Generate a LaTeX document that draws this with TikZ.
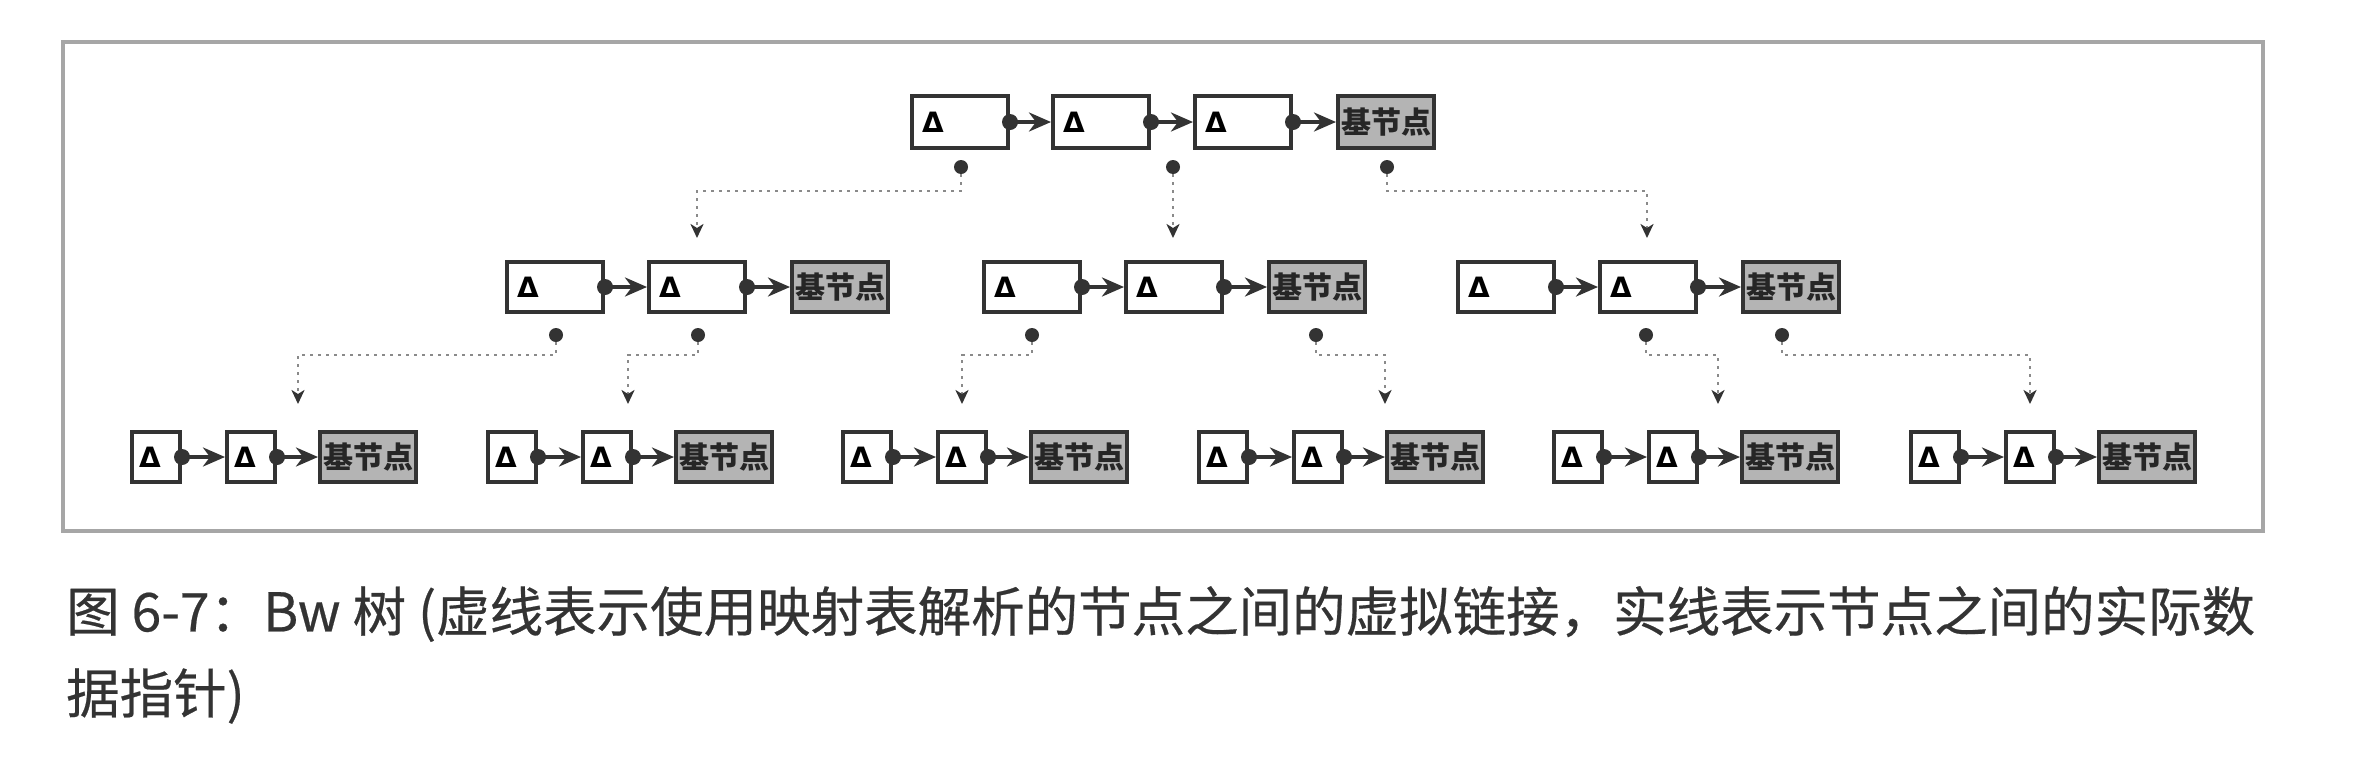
\documentclass[tikz,border=0pt]{standalone}
\usepackage{fontspec}
\setmainfont{Noto Sans CJK SC}
\newfontfamily\capfont{Noto Sans CJK SC}[FakeBold=0.4]
\newfontfamily\deltafont{DejaVu Sans}
\usetikzlibrary{arrows.meta}
\definecolor{ink}{HTML}{333333}
\definecolor{basefill}{HTML}{B4B4B4}
\definecolor{dashc}{HTML}{8A8A8A}
\begin{document}
\begin{tikzpicture}[x=1pt,y=-1pt,
  nbox/.style={draw=ink,line width=4pt,fill=white,minimum height=52pt,minimum width=96pt,
    inner xsep=10pt,inner ysep=0pt,text width=76pt,align=left,font=\deltafont\bfseries\fontsize{28}{30}\selectfont},
  sbox/.style={nbox,minimum height=50pt,minimum width=48pt,inner xsep=7pt,text width=34pt},
  basebox/.style={draw=ink,line width=4pt,fill=basefill,minimum height=50pt,minimum width=96pt,
    inner sep=0pt,font=\bfseries\fontsize{30}{31}\selectfont,text=black!85},
  link/.style={draw=ink,line width=3.5pt,-{Stealth[length=22pt,width=19pt,inset=7pt]}},
  dotn/.style={circle,fill=ink,minimum size=14pt,inner sep=0pt},
  vlink/.style={draw=dashc,line width=2.5pt,dash pattern=on 3pt off 5pt,
    -{Stealth[length=14pt,width=13pt,inset=4pt,color=ink]}},
  captext/.style={anchor=west,inner sep=0pt,text=ink,font=\capfont\fontsize{53.5}{60}\selectfont}]
\useasboundingbox (0,0) rectangle (2356,758);
\fill[white] (0,0) rectangle (2356,758);
% frame
\draw[gray!70,line width=3.5pt] (63,42) rectangle (2263,531);

% top row
\node[nbox,minimum height=52pt] (t1) at (960,122) {Δ};
\node[nbox,minimum height=52pt] (t2) at (1101,122) {Δ};
\node[nbox,minimum height=52pt] (t3) at (1243,122) {Δ};
\node[basebox,minimum height=52pt] (t4) at (1386,122) {基节点};
\draw[link] (t1.east) -- (t2.west);
\draw[link] (t2.east) -- (t3.west);
\draw[link] (t3.east) -- (t4.west);
\fill[ink] (t1.east) circle (8pt) (t2.east) circle (8pt) (t3.east) circle (8pt);

% middle row
\foreach \g/\x in {A/555,B/1032,C/1506}{
  \node[nbox,minimum height=50pt] (m\g x) at (\x,287) {Δ};
  \node[nbox,minimum height=50pt] (m\g y) at ({\x+142},287) {Δ};
  \node[basebox] (m\g z) at ({\x+285},287) {基节点};
  \draw[link] (m\g x.east) -- (m\g y.west);
  \draw[link] (m\g y.east) -- (m\g z.west);
  \fill[ink] (m\g x.east) circle (8pt) (m\g y.east) circle (8pt);
}

% bottom row
\foreach \g/\x in {1/156,2/512,3/867,4/1223,5/1578,6/1935}{
  \node[sbox] (b\g x) at (\x,457) {Δ};
  \node[sbox] (b\g y) at ({\x+95},457) {Δ};
  \node[basebox] (b\g z) at ({\x+212},457) {基节点};
  \draw[link] (b\g x.east) -- (b\g y.west);
  \draw[link] (b\g y.east) -- (b\g z.west);
  \fill[ink] (b\g x.east) circle (8pt) (b\g y.east) circle (8pt);
}

% dots below top row and their virtual links
\node[dotn] (p1) at (961,167) {};
\node[dotn] (p2) at (1173,167) {};
\node[dotn] (p3) at (1387,167) {};
\coordinate (q1) at (697,238);
\coordinate (q2) at (1173,238);
\coordinate (q3) at (1647,238);
\draw[vlink] (p1) -- ++(0,24) -| (q1);
\draw[vlink] (p2) -- (q2);
\draw[vlink] (p3) -- ++(0,24) -| (q3);

% dots below middle row and their virtual links
\node[dotn] (r1) at (556,335) {};
\node[dotn] (r2) at (698,335) {};
\node[dotn] (r3) at (1032,335) {};
\node[dotn] (r4) at (1316,335) {};
\node[dotn] (r5) at (1646,335) {};
\node[dotn] (r6) at (1782,335) {};
\coordinate (s1) at (298,404);
\coordinate (s2) at (628,404);
\coordinate (s3) at (962,404);
\coordinate (s4) at (1385,404);
\coordinate (s5) at (1718,404);
\coordinate (s6) at (2030,404);
\foreach \i in {1,...,6}{
  \draw[vlink] (r\i) -- ++(0,20) -| (s\i);
}

% caption
\node[captext] (cap1) at (66,614) {图 6-7：Bw 树 (虚线表示使用映射表解析的节点之间的虚拟链接，实线表示节点之间的实际数};
\node[captext] (cap2) at (66,696) {据指针)};
\end{tikzpicture}
\end{document}
